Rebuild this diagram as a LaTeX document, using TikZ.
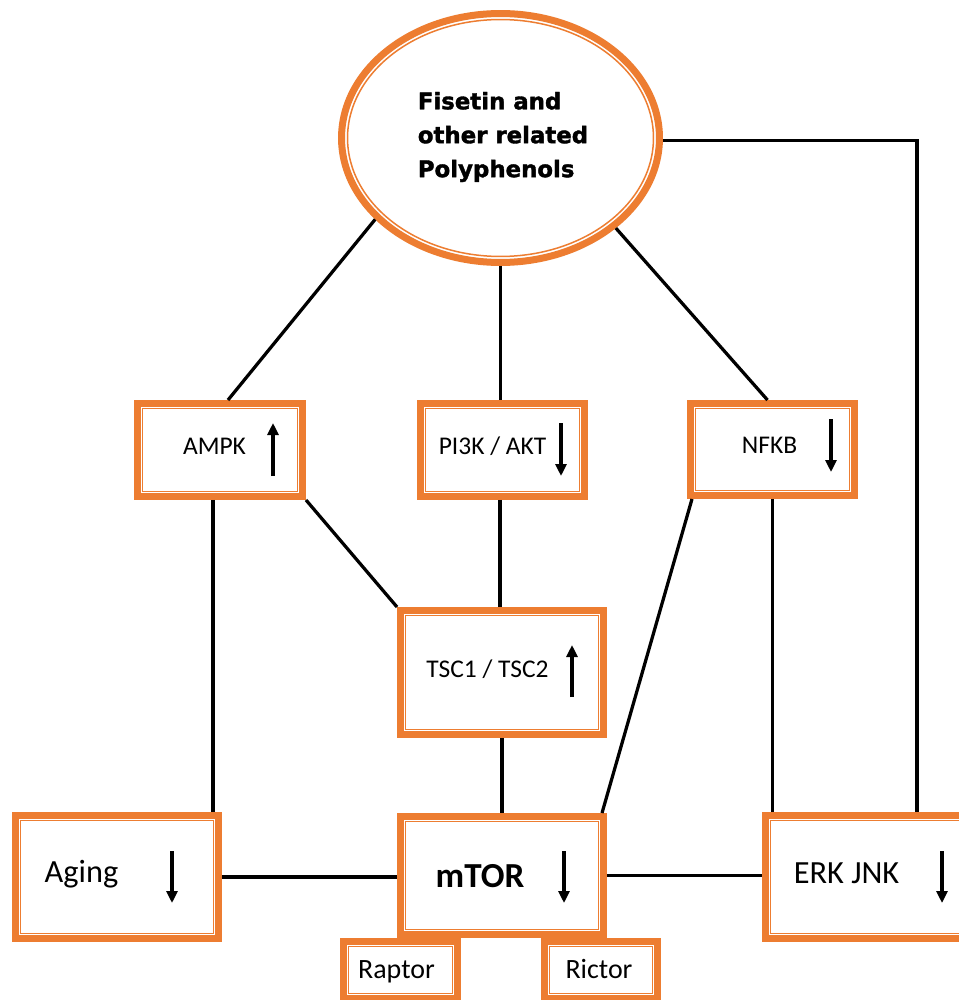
\documentclass[tikz,border=0pt]{standalone}
\usepackage{fontspec}
\setmainfont{Carlito}
\newfontfamily\headfont{DejaVu Sans}[BoldFeatures={FakeBold=1.6}]
\usetikzlibrary{arrows.meta,shapes.geometric}
\definecolor{orc}{HTML}{ED7D31}
\begin{document}
\begin{tikzpicture}[x=0.02cm,y=-0.02cm,
  box/.style={draw=orc, line width=0.14cm, fill=white, inner sep=0pt},
  conn/.style={draw=black, line width=0.065cm},
  ind/.style={draw=black, line width=0.065cm, -{Triangle[width=0.22cm,length=0.24cm]}},
  lbl/.style={anchor=base, inner sep=0pt, font=\fontsize{14.5pt}{17pt}\selectfont},
  biglbl/.style={anchor=base, inner sep=0pt, font=\fontsize{18.4pt}{22pt}\selectfont},
  midlbl/.style={anchor=base, inner sep=0pt, font=\fontsize{15.9pt}{19pt}\selectfont},
  innerline/.style={draw=orc, line width=0.03cm}
]
\useasboundingbox (0,0) rectangle (959,1000);
\fill[white] (0,0) rectangle (959,1000);
\clip (0,0) rectangle (959,1000);

% ellipse
\node[ellipse, draw=orc, line width=0.14cm, fill=white, minimum width=6.36cm, minimum height=4.98cm, inner sep=0pt] (ell) at (500.5,138) {};
\draw[innerline] (ell.center) ellipse [x radius=3.06cm, y radius=2.37cm];
\node[align=left, inner sep=0pt, font=\headfont\bfseries\fontsize{13pt}{19.3pt}\selectfont] (ftext) at (503,137) {Fisetin and\\other related\\Polyphenols};

% boxes
\node[box, minimum width=3.30cm, minimum height=1.86cm] (ampk) at (220,450) {};
\node[box, minimum width=3.28cm, minimum height=1.86cm] (pik) at (502.5,450) {};
\node[box, minimum width=3.28cm, minimum height=1.84cm] (nfkb) at (772.5,449.5) {};
\node[box, minimum width=4.06cm, minimum height=2.48cm] (tsc) at (502,672.5) {};
\node[box, minimum width=4.06cm, minimum height=2.46cm] (aging) at (117,877) {};
\node[box, minimum width=4.06cm, minimum height=2.36cm] (mtor) at (502,875.5) {};
\node[box, minimum width=4.12cm, minimum height=2.46cm] (erk) at (868.5,877) {};
\node[box, minimum width=2.28cm, minimum height=1.14cm] (raptor) at (400.5,970) {};
\node[box, minimum width=2.26cm, minimum height=1.14cm] (rictor) at (601,970) {};

\foreach \n in {ampk,pik,nfkb,tsc,aging,mtor,erk,raptor,rictor}
  \draw[innerline] ([shift={(8.5,8.5)}]\n.north west) rectangle ([shift={(-8.5,-8.5)}]\n.south east);

% connectors
\draw[conn] (ell.213.4) -- ([shift={(8,0)}]ampk.north);
\draw[conn] (ell.south) -- (ell.south |- pik.north);
\draw[conn] (ell.322.5) -- ([shift={(-5,0)}]nfkb.north);
\draw[conn] (ell.359) -| ([shift={(48.5,0)}]erk.north);
\draw[conn] ([shift={(-7,0)}]ampk.south) -- ([shift={(-7,0)}]ampk.south |- aging.north);
\draw[conn] (ampk.south east) -- (tsc.north west);
\draw[conn] ([shift={(-2.5,0)}]pik.south) -- ([shift={(-2.5,0)}]pik.south |- tsc.north);
\draw[conn] (tsc.south) -- (mtor.north);
\draw[conn] ([shift={(-80.5,0)}]nfkb.south) -- ([shift={(100,0)}]mtor.north);
\draw[conn] (nfkb.south) -- (nfkb.south |- erk.north);
\draw[conn] (aging.east) -- (aging.east -| mtor.west);
\draw[conn] (mtor.east) -- (mtor.east -| erk.west);

% labels
\node[lbl] (tampk) at (214.5,454) {AMPK};
\node[lbl] (tpik) at (492.5,454) {PI3K / AKT};
\node[lbl] (tnfkb) at (769.5,453) {NFKB};
\node[lbl] (ttsc) at (487.5,677) {TSC1 / TSC2};
\node[biglbl] (taging) at (81.5,882) {Aging};
\node[anchor=base, inner sep=0pt, font=\fontsize{20pt}{24pt}\selectfont\bfseries] (tmtor) at (480,887) {mTOR};
\node[biglbl] (terk) at (846.5,883) {ERK JNK};
\node[midlbl] (traptor) at (396.5,978) {Raptor};
\node[midlbl] (trictor) at (599,978) {Rictor};

% up/down indicators
\draw[ind] ([shift={(53,26)}]ampk.center) -- ([shift={(53,-27)}]ampk.center);
\draw[ind] ([shift={(58.5,-27)}]pik.center) -- ([shift={(58.5,26)}]pik.center);
\draw[ind] ([shift={(58.5,-30.5)}]nfkb.center) -- ([shift={(58.5,22.5)}]nfkb.center);
\draw[ind] ([shift={(70,24.5)}]tsc.center) -- ([shift={(70,-27.5)}]tsc.center);
\draw[ind] ([shift={(55,-26)}]aging.center) -- ([shift={(55,26)}]aging.center);
\draw[ind] ([shift={(62,-24.5)}]mtor.center) -- ([shift={(62,27.5)}]mtor.center);
\draw[ind] ([shift={(73.5,-26)}]erk.center) -- ([shift={(73.5,26)}]erk.center);
\end{tikzpicture}
\end{document}
